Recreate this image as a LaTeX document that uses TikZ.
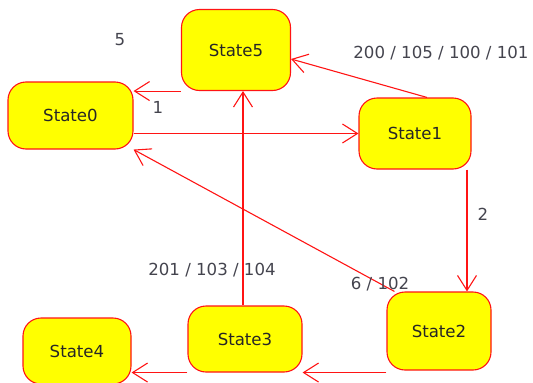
\documentclass[tikz,border=0pt]{standalone}
\usepackage{fontspec}
\setmainfont{DejaVu Sans}
\usetikzlibrary{arrows.meta,calc}
\definecolor{edgered}{RGB}{255,20,20}
\definecolor{stateyellow}{RGB}{255,255,0}
\definecolor{labelgray}{RGB}{68,68,78}
\tikzset{
  state/.style={draw=edgered, fill=stateyellow, line width=1.1pt, rounded corners=18pt,
    inner sep=0pt, font=\fontsize{16.6}{18}\selectfont, text=black!85},
  trans/.style={draw=edgered, line width=1.1pt,
    -{Straight Barb[length=15pt,width=19pt,line width=1.1pt]}},
  tlabel/.style={font=\fontsize{16.6}{18}\selectfont, text=labelgray, inner sep=0pt}
}
\begin{document}
\begin{tikzpicture}[x=1pt,y=-1pt]
\useasboundingbox (0,0) rectangle (533,383);
\begin{scope}
\clip (0,0) rectangle (533,383);
% states
\node[state, minimum width=109pt, minimum height=81pt] (s5) at (236,50) {State5};
\node[state, minimum width=125pt, minimum height=67pt] (s0) at (70.5,115.5) {State0};
\node[state, minimum width=112pt, minimum height=71pt] (s1) at (415,133.5) {State1};
\node[state, minimum width=104pt, minimum height=78pt] (s2) at (439,331) {State2};
\node[state, minimum width=114pt, minimum height=66pt] (s3) at (245,339) {State3};
\node[state, minimum width=108pt, minimum height=66pt] (s4) at (77,351) {State4};

% transitions
\draw[trans] (s5.south west) -- (s0.east |- s5.south west);
\draw[trans] (s0.east |- s1.west) -- (s1.west);
\draw[trans] ([xshift=12pt]s1.north) -- ($(s5.east)+(0,9)$);
\coordinate (d12) at ([xshift=52pt]s1.south);
\draw[trans] (d12) -- (d12 |- s2.north);
\draw[trans] ([xshift=8pt]s2.north west) -- (s0.south east);
\coordinate (d35) at ([xshift=-2pt]s3.north);
\draw[trans] (d35) -- (d35 |- s5.south);
\coordinate (d23) at ([yshift=-2pt]s2.south west);
\draw[trans] (d23) -- (s3.east |- d23);
\draw[trans] (s3.south west) -- (s4.east |- s3.south west);
\end{scope}

% transition labels
\node[tlabel] (l5) at (120,40) {5};
\node[tlabel] (l1) at (158,107) {1};
\node[tlabel] (l200) at (441,53) {200 / 105 / 100 / 101};
\node[tlabel] (l2) at (483,214) {2};
\node[tlabel] (l6) at (380,284) {6 / 102};
\node[tlabel] (l201) at (212,270) {201 / 103 / 104};
\end{tikzpicture}
\end{document}
